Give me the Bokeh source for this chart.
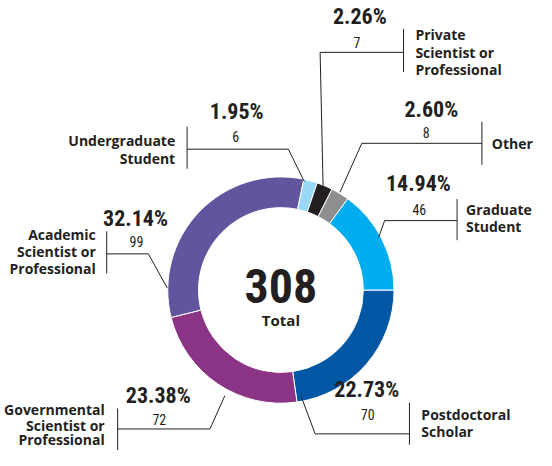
import math
from bokeh.plotting import figure
from bokeh.models import Range1d, ColumnDataSource
from bokeh.core.properties import value
from bokeh.embed import file_html
from bokeh.resources import INLINE

# ---- data ----
categories = ["Postdoctoral Scholar", "Governmental Scientist or Professional",
              "Academic Scientist or Professional", "Undergraduate Student",
              "Private Scientist or Professional", "Other", "Graduate Student"]
counts = [70, 72, 99, 6, 7, 8, 46]
percent_labels = ["22.73%", "23.38%", "32.14%", "1.95%", "2.26%", "2.60%", "14.94%"]
label_lines = [["Postdoctoral", "Scholar"],
               ["Governmental", "Scientist or", "Professional"],
               ["Academic", "Scientist or", "Professional"],
               ["Undergraduate", "Student"],
               ["Private", "Scientist or", "Professional"],
               ["Other"],
               ["Graduate", "Student"]]
total_label = "Total"

# ---- styling / layout ----
colors = ["#0057a4", "#8b3384", "#62559e", "#99d9f6", "#231f20", "#8c8e90", "#00aeef"]
W, H = 536, 450
def Y(ry):  # reference pixel row -> data y (y up)
    return 466 - ry

CX, CY = 290.5, Y(300)
R_OUT, R_IN = 114, 83

layout = [
    dict(pct=(377, 402), cnt=(378, 427), bar=(420, 415, 458), lead=[(420, 447), (325, 447), (311, 409)],
         lx=432, align="left", ly=[427, 445]),
    dict(pct=(167, 408), cnt=(168, 432), bar=(126, 421, 466), lead=[(126, 442), (219, 442), (234, 408)],
         lx=113, align="right", ly=[422, 438, 453]),
    dict(pct=(144, 227), cnt=(145, 250), bar=(115, 240, 283), lead=[(115, 263), (157, 263), (176, 298)],
         lx=104, align="right", ly=[243, 261, 278]),
    dict(pct=(246, 117), cnt=(245, 143), bar=(196, 133, 176), lead=[(196, 156), (298, 156), (314, 189)],
         lx=184, align="right", ly=[147, 165]),
    dict(pct=(370, 20), cnt=(367, 47), bar=(414, 33, 77), lead=[(414, 57), (330, 57), (333, 193)],
         lx=426, align="left", ly=[39, 57, 75]),
    dict(pct=(442, 115), cnt=(437, 139), bar=(493, 128, 172), lead=[(493, 150), (372, 150), (350, 200)],
         lx=503, align="left", ly=[150]),
    dict(pct=(429, 191), cnt=(430, 218), bar=(468, 207, 249), lead=[(468, 229), (395, 229), (389, 246)],
         lx=477, align="left", ly=[218, 235]),
]

COND = value("'Liberation Sans Narrow', 'Roboto Condensed', 'DejaVu Sans Condensed', Roboto, sans-serif")
BOLD = value("'Open Sans', sans-serif")
INK = "#231f20"

p = figure(width=W, height=H, output_backend="svg", toolbar_location=None,
           x_range=Range1d(8, 548), y_range=Range1d(Y(464), Y(4)),
           min_border=0, outline_line_color=None)
p.axis.visible = False
p.grid.visible = False
p.background_fill_color = "white"
p.border_fill_color = "white"

# wedges: start at 3 o'clock, clockwise
total = sum(counts)
starts, ends = [], []
cum = 0
for c in counts:
    a0 = -2 * math.pi * cum / total
    cum += c
    a1 = -2 * math.pi * cum / total
    starts.append(a1)
    ends.append(a0)
src = ColumnDataSource(dict(cat=categories, count=counts, start=starts, end=ends, color=colors))
p.annular_wedge(x=CX, y=CY, inner_radius=R_IN, outer_radius=R_OUT, start_angle="start",
                end_angle="end", fill_color="color", line_color="white", line_width=1, source=src)

# leaders and bars
xs, ys = [], []
for L in layout:
    xs.append([pt[0] for pt in L["lead"]])
    ys.append([Y(pt[1]) for pt in L["lead"]])
    bx, b0, b1 = L["bar"]
    xs.append([bx, bx])
    ys.append([Y(b0), Y(b1)])
p.multi_line(xs=xs, ys=ys, line_color=INK, line_width=1)

# percentages and counts
p.text(x=[L["pct"][0] for L in layout], y=[Y(L["pct"][1]) for L in layout], text=percent_labels,
       text_font=COND, text_font_style="bold", text_font_size="22px", text_color=INK,
       text_align="center", text_baseline="middle")
p.text(x=[L["cnt"][0] for L in layout], y=[Y(L["cnt"][1]) for L in layout], text=[str(c) for c in counts],
       text_font=COND, text_font_size="14px", text_color=INK,
       text_align="center", text_baseline="middle")

# category labels
for align in ("left", "right"):
    tx, ty, tt = [], [], []
    for L, lines in zip(layout, label_lines):
        if L["align"] != align:
            continue
        for yy, t in zip(L["ly"], lines):
            tx.append(L["lx"]); ty.append(Y(yy)); tt.append(t)
    p.text(x=tx, y=ty, text=tt, text_font=BOLD, text_font_style="bold", text_font_size="14px",
           text_color=INK, text_align=align, text_baseline="middle")

# centre total
p.text(x=[CX], y=[Y(296)], text=[str(total)], text_font=COND, text_font_style="bold",
       text_font_size="48px", text_color=INK, text_align="center", text_baseline="middle")
p.text(x=[CX], y=[Y(331)], text=[total_label], text_font=BOLD, text_font_style="bold",
       text_font_size="15px", text_color=INK, text_align="center", text_baseline="middle")

open("out.html", "w").write(file_html(p, INLINE))
